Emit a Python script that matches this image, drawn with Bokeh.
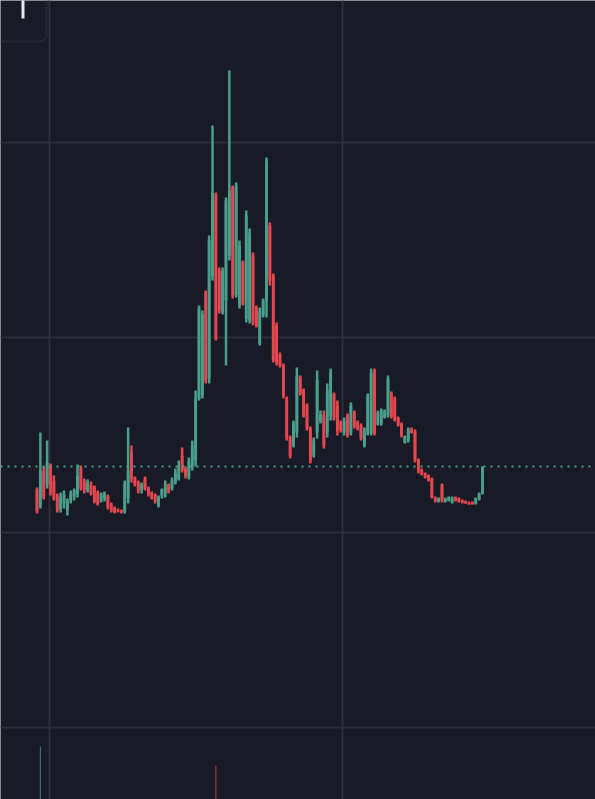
from bokeh.plotting import figure
from bokeh.models import ColumnDataSource, Range1d, FixedTicker, Span, BoxAnnotation
from bokeh.embed import file_html
from bokeh.resources import INLINE

# ---- data (price in chart units; gridlines every 195 units) ----
opens = [238, 222, 257, 243, 262, 247, 232, 219, 224, 217, 227, 231, 233, 259, 247, 237, 243, 241, 235, 227,
         229, 231, 223, 219, 217, 217, 216, 229, 275, 250, 245, 237, 249, 240, 235, 233, 222, 232, 234, 243,
         239, 245, 249, 272, 259, 250, 261, 267, 329, 332, 435, 349, 451, 532, 457, 415, 427, 472, 540, 432,
         422, 465, 409, 407, 472, 420, 384, 412, 427, 502, 452, 402, 372, 362, 329, 290, 282, 295, 350, 337,
         322, 299, 272, 295, 307, 312, 295, 312, 333, 322, 305, 295, 312, 295, 315, 305, 302, 282, 294, 294,
         357, 303, 304, 310, 312, 334, 329, 310, 304, 285, 287, 299, 296, 268, 258, 254, 252, 249, 230, 226,
         243, 226, 227, 225, 230, 229, 227, 226, 225, 225, 224, 228, 234]
highs = [240, 295, 261, 287, 264, 252, 234, 235, 237, 229, 237, 239, 263, 262, 249, 248, 246, 242, 237, 235,
         236, 233, 225, 221, 219, 218, 247, 300, 282, 251, 247, 245, 251, 241, 236, 234, 232, 239, 247, 244,
         250, 259, 267, 280, 261, 270, 287, 337, 422, 417, 437, 492, 602, 535, 460, 460, 530, 657, 542, 545,
         487, 467, 517, 499, 475, 422, 420, 429, 570, 505, 454, 405, 375, 364, 331, 292, 307, 360, 352, 339,
         324, 301, 290, 357, 317, 317, 344, 359, 335, 327, 307, 310, 314, 325, 317, 307, 304, 300, 334, 359,
         359, 317, 319, 318, 352, 336, 331, 311, 305, 292, 300, 300, 298, 269, 259, 255, 253, 250, 231, 230,
         244, 230, 231, 231, 231, 230, 228, 227, 226, 226, 230, 235, 261]
lows = [214, 219, 228, 239, 232, 227, 215, 215, 219, 212, 224, 227, 230, 237, 234, 235, 232, 224, 222, 225,
        226, 218, 215, 214, 215, 214, 214, 224, 245, 241, 234, 234, 237, 231, 228, 224, 220, 229, 230, 234,
        237, 243, 247, 255, 249, 248, 257, 261, 327, 329, 344, 344, 447, 387, 414, 413, 362, 467, 429, 430,
        419, 422, 405, 404, 402, 400, 382, 410, 410, 442, 365, 362, 360, 329, 287, 269, 280, 290, 332, 310,
        297, 264, 270, 289, 304, 279, 290, 307, 307, 292, 295, 292, 290, 292, 299, 297, 287, 280, 292, 292,
        292, 302, 302, 309, 310, 309, 306, 301, 290, 284, 285, 294, 265, 254, 252, 249, 246, 229, 225, 225,
        225, 225, 226, 224, 226, 225, 224, 224, 223, 223, 223, 227, 233]
closes = [216, 257, 230, 265, 235, 229, 217, 231, 233, 227, 234, 237, 252, 239, 237, 245, 234, 226, 223, 233,
          234, 220, 217, 215, 216, 215, 243, 257, 249, 243, 236, 243, 239, 233, 229, 226, 231, 238, 243, 236,
          247, 255, 261, 257, 251, 267, 282, 329, 419, 413, 347, 487, 535, 389, 417, 457, 527, 537, 432, 541,
          482, 424, 512, 495, 405, 402, 417, 427, 567, 447, 367, 365, 362, 331, 289, 271, 305, 352, 334, 312,
          299, 267, 287, 347, 313, 282, 337, 355, 309, 297, 297, 307, 292, 322, 301, 299, 289, 297, 331, 355,
          294, 315, 317, 316, 349, 311, 307, 302, 292, 291, 298, 295, 267, 257, 253, 250, 247, 230, 226, 229,
          226, 229, 230, 230, 227, 226, 225, 224, 223, 223, 229, 234, 261]
# volume: only two bars are visible in the lower pane
volume = {1: 53, 53: 34}

price_grid = [0, 195, 390, 585]

# ---- styles / layout ----
BG = "#181b25"
GRID = "#2a2e39"
UP = "#4a9f8b"
DOWN = "#e4474f"
W, H = 595, 799
X0, STEP = 36.5, 3.375   # screen px of first candle, px per candle
BASE = 727               # screen px of the price-pane bottom line

n = len(opens)
idx = list(range(n))
colors = [UP if c >= o else DOWN for o, c in zip(opens, closes)]
src = ColumnDataSource(dict(x=idx, o=opens, h=highs, l=lows, c=closes, col=colors))

x_start = (0 - X0) / STEP
x_end = (W - X0) / STEP

p = figure(width=W, height=H, output_backend="svg", toolbar_location=None,
           x_range=Range1d(x_start, x_end), y_range=Range1d(BASE - H, BASE),
           min_border=0, background_fill_color=BG, border_fill_color=BG,
           outline_line_color=None)
p.extra_y_ranges = {"vol": Range1d(0, H)}
p.xaxis.visible = False
p.yaxis.visible = False
p.xgrid.ticker = FixedTicker(ticks=[(49 - X0) / STEP, (342 - X0) / STEP])
p.ygrid.ticker = FixedTicker(ticks=price_grid)
for g in (p.xgrid, p.ygrid):
    g.grid_line_color = GRID
    g.grid_line_width = 2

p.segment(x0="x", x1="x", y0="l", y1="h", color="col", line_width=2.5, source=src)
p.vbar(x="x", width=0.85, top="o", bottom="c", fill_color="col", line_color=None, source=src)

vx = list(volume.keys())
vv = list(volume.values())
vc = [colors[i] for i in vx]
p.vbar(x=vx, width=0.3, top=vv, bottom=0, fill_color=vc, line_color=None,
       fill_alpha=0.75, y_range_name="vol")

p.add_layout(Span(location=closes[-1], dimension="width", line_color=UP,
                  line_dash="2 5", line_width=2))

# top-left UI box
p.add_layout(BoxAnnotation(left=x_start - 20, right=(46 - X0) / STEP, bottom=BASE - 41, top=BASE + 50,
                           fill_alpha=0, line_color="#3d404c", line_width=2.5, border_radius=7))
p.add_layout(BoxAnnotation(left=(21 - X0) / STEP, right=(24 - X0) / STEP, bottom=BASE - 18, top=BASE + 50,
                           fill_color="#e8e8ec", fill_alpha=1, line_color=None))

open("out.html", "w").write(file_html(p, INLINE))
